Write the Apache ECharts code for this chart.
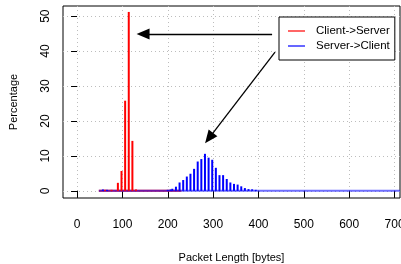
<!DOCTYPE html>
<html>
<head>
<meta charset="utf-8">
<script src="https://cdn.jsdelivr.net/npm/echarts@6/dist/echarts.min.js"></script>
<style>
    html, body { margin: 0; padding: 0; background: #fff; }
    #chart { width: 401px; height: 264px; }
</style>
</head>
<body>
<div id="chart"></div>
<script>
// 包长分布 - 两个方向的直方线
const xTicks = [0, 100, 200, 300, 400, 500, 600, 700];
const yTicks = [0, 10, 20, 30, 40, 50];

// Client->Server（红）
const clientLen = [62, 76, 90, 98, 106, 114, 122, 130];
const clientPct = [0.3, 0.3, 2.3, 5.7, 25.8, 51.2, 14.3, 0.4];

// Server->Client（蓝）
const serverLen = [57, 66, 200, 206, 210, 218, 226, 234, 242, 250, 258, 266, 274, 282, 290, 298, 306, 314, 322, 330, 338, 346, 354, 362, 370, 378, 386, 394];
const serverPct = [0.4, 0.3, 0.3, 0.4, 0.6, 1.2, 2.4, 3.1, 4.1, 4.9, 6.3, 8.4, 9.1, 10.6, 9.5, 8.9, 6.6, 4.5, 4.5, 3.4, 2.4, 2.0, 1.8, 1.3, 0.8, 0.5, 0.45, 0.3];

// 底部的小值
const clientFloor = [[48, 0.05], [230, 0.05]];
const serverFloor = [[48, 0.05], [712, 0.05]];

// 箭头（数据坐标）
const arrowClient = [[430, 44.9], [145.5, 44.9]];
const arrowServer = [[436.5, 39.7], [291, 15.1]];

const font = 'Liberation Sans, Arial, sans-serif';

const chart = echarts.init(document.getElementById('chart'));
chart.setOption({
    animation: false,
    textStyle: { fontFamily: font },
    grid: {
        left: 63,
        right: 1,
        top: 6,
        bottom: 66,
        outerBoundsMode: 'none',
        containLabel: false,
        show: true,
        borderColor: '#000',
        borderWidth: 1
    },
    legend: {
        orient: 'vertical',
        left: 279,
        top: 17,
        width: 115,
        padding: [8, 5, 8, 9],
        itemGap: 3,
        itemWidth: 17,
        itemHeight: 1.2,
        icon: 'rect',
        borderColor: '#000',
        borderWidth: 1,
        backgroundColor: '#fff',
        textStyle: { fontFamily: font, fontSize: 11.5, color: '#000', padding: [0, 0, 0, 6] },
        data: ['Client->Server', 'Server->Client']
    },
    xAxis: {
        type: 'value',
        min: -31,
        max: 712,
        name: 'Packet Length [bytes]',
        nameLocation: 'middle',
        nameGap: 54,
        nameTextStyle: { color: '#000', fontSize: 11, fontFamily: font },
        axisLine: { show: false },
        axisTick: { show: true, length: 7, customValues: xTicks, lineStyle: { color: '#000' } },
        axisLabel: { customValues: xTicks, color: '#000', fontSize: 12, margin: 21, hideOverlap: false },
        splitLine: { show: true, lineStyle: { color: '#bdbdbd', type: [1, 3], width: 1 } }
    },
    yAxis: {
        type: 'value',
        min: -2.04,
        max: 52.9,
        name: 'Percentage',
        nameLocation: 'middle',
        nameGap: 44,
        nameTextStyle: { color: '#000', fontSize: 11, fontFamily: font },
        axisLine: { show: false },
        axisTick: { show: true, length: 6, customValues: yTicks, lineStyle: { color: '#000' } },
        axisLabel: { customValues: yTicks, color: '#000', fontSize: 12, rotate: 90, margin: 11 },
        splitLine: { show: true, lineStyle: { color: '#bdbdbd', type: [1, 3], width: 1 } }
    },
    series: [
        {
            name: 'Client->Server',
            type: 'line',
            data: clientFloor,
            symbol: 'none',
            lineStyle: { color: '#ff0000', width: 2 },
            itemStyle: { color: '#ff0000' },
            z: 2
        },
        {
            name: 'Server->Client',
            type: 'line',
            data: serverFloor,
            symbol: 'none',
            lineStyle: { color: '#2222ff', width: 2, opacity: 0.65 },
            itemStyle: { color: '#0000ff' },
            z: 3,
            markLine: {
                silent: true,
                symbol: ['none', 'triangle'],
                symbolSize: [11, 13],
                label: { show: false },
                lineStyle: { color: '#000', width: 1.3, type: 'solid' },
                data: [
                    [{ coord: arrowClient[0] }, { coord: arrowClient[1] }],
                    [{ coord: arrowServer[0] }, { coord: arrowServer[1] }]
                ]
            }
        },
        {
            name: 'Client->Server',
            type: 'bar',
            data: clientLen.map((x, i) => [x, clientPct[i]]),
            barWidth: 2,
            barGap: '-100%',
            itemStyle: { color: '#ff0000' },
            z: 4
        },
        {
            name: 'Server->Client',
            type: 'bar',
            data: serverLen.map((x, i) => [x, serverPct[i]]),
            barWidth: 2,
            barGap: '-100%',
            itemStyle: { color: '#0000ff' },
            z: 4
        }
    ]
});

window.addEventListener('resize', () => chart.resize());
</script>
</body>
</html>
